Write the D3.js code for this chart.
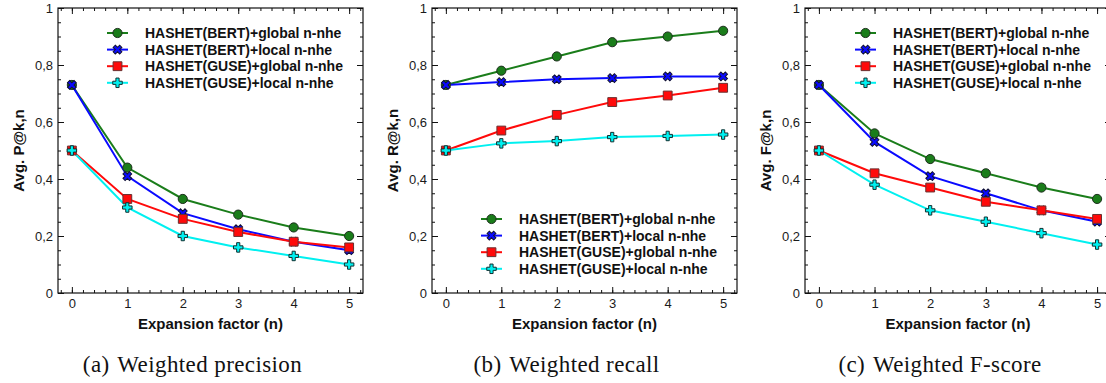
<!DOCTYPE html>
<html><head><meta charset="utf-8">
<script src="https://cdn.jsdelivr.net/npm/d3@7"></script>
<style>body{margin:0;background:#fff}svg{display:block}</style>
</head><body>
<svg id="chart" width="1106" height="383"></svg>
<script>
// ---- data ----
const expansionFactors = [0, 1, 2, 3, 4, 5];
const seriesLabels = [
  "HASHET(BERT)+global n-nhe",
  "HASHET(BERT)+local n-nhe",
  "HASHET(GUSE)+global n-nhe",
  "HASHET(GUSE)+local n-nhe"
];
const yTickValues = [0, 0.2, 0.4, 0.6, 0.8, 1];
const yTickLabels = ["0", "0,2", "0,4", "0,6", "0,8", "1"];
const xTickLabels = ["0", "1", "2", "3", "4", "5"];

const precisionBertGlobal = [0.73, 0.44, 0.33, 0.275, 0.23, 0.20];
const precisionBertLocal  = [0.73, 0.41, 0.28, 0.224, 0.18, 0.15];
const precisionGuseGlobal = [0.50, 0.33, 0.26, 0.214, 0.18, 0.16];
const precisionGuseLocal  = [0.50, 0.30, 0.20, 0.16, 0.13, 0.10];

const recallBertGlobal = [0.73, 0.78, 0.83, 0.88, 0.90, 0.92];
const recallBertLocal  = [0.73, 0.74, 0.75, 0.754, 0.76, 0.76];
const recallGuseGlobal = [0.50, 0.57, 0.625, 0.67, 0.693, 0.72];
const recallGuseLocal  = [0.50, 0.525, 0.533, 0.547, 0.551, 0.556];

const fscoreBertGlobal = [0.73, 0.56, 0.47, 0.42, 0.37, 0.33];
const fscoreBertLocal  = [0.73, 0.53, 0.41, 0.35, 0.29, 0.25];
const fscoreGuseGlobal = [0.50, 0.42, 0.37, 0.32, 0.29, 0.26];
const fscoreGuseLocal  = [0.50, 0.38, 0.29, 0.25, 0.21, 0.17];

// ---- styles ----
const colors = ["#1a7d1a", "#0a0aff", "#ff0a0a", "#00f0f0"];
const strokes = ["#1e2e1e", "#111133", "#6a3030", "#103030"];
const symbols = [d3.symbolCircle, d3.symbolCross, d3.symbolSquare, d3.symbolCross];
const symSizes = [66, 48, 78, 50];
const symRot = [0, 45, 0, 0];

const panels = [
  { x0: 58, x1: 363, yLabel: "Avg. P@k,n", capA: "(a)", capB: "Weighted precision",
    series: [precisionBertGlobal, precisionBertLocal, precisionGuseGlobal, precisionGuseLocal],
    legX: 49, legY: 33 },
  { x0: 432, x1: 737, yLabel: "Avg. R@k,n", capA: "(b)", capB: "Weighted recall",
    series: [recallBertGlobal, recallBertLocal, recallGuseGlobal, recallGuseLocal],
    legX: 49, legY: 219 },
  { x0: 805, x1: 1111, yLabel: "Avg. F@k,n", capA: "(c)", capB: "Weighted F-score",
    series: [fscoreBertGlobal, fscoreBertLocal, fscoreGuseGlobal, fscoreGuseLocal],
    legX: 50, legY: 33 }
];

const svg = d3.select("#chart");
const SANS = "'Liberation Sans', Arial, sans-serif";
const SERIF = "'Liberation Serif', 'Times New Roman', serif";
const yTop = 8, yBot = 293;

const minorX = d3.range(-0.2, 5.21, 0.2).map(v => Math.round(v * 10) / 10);
const minorY = d3.range(0, 1.001, 0.05).map(v => Math.round(v * 100) / 100);

panels.forEach(p => {
  const g = svg.append("g");
  const x = d3.scaleLinear().domain([-0.25, 5.25]).range([p.x0, p.x1]);
  const y = d3.scaleLinear().domain([0, 1]).range([yBot, yTop]);

  const styleAxis = sel => {
    sel.select(".domain").remove();
    sel.selectAll("line").attr("stroke", "#111").attr("stroke-width", 1);
    sel.selectAll("text").attr("font-family", SANS).attr("font-size", 13).attr("fill", "#1a1a1a");
  };
  g.append("g").attr("transform", `translate(0,${yBot})`)
    .call(d3.axisBottom(x).tickValues(minorX).tickSize(-3).tickFormat("")).call(styleAxis);
  g.append("g").attr("transform", `translate(0,${yBot})`)
    .call(d3.axisBottom(x).tickValues(expansionFactors).tickSize(-6).tickPadding(6)
      .tickFormat((d, i) => xTickLabels[i])).call(styleAxis);
  g.append("g").attr("transform", `translate(0,${yTop})`)
    .call(d3.axisTop(x).tickValues(minorX).tickSize(-3).tickFormat("")).call(styleAxis);
  g.append("g").attr("transform", `translate(0,${yTop})`)
    .call(d3.axisTop(x).tickValues(expansionFactors).tickSize(-6).tickFormat("")).call(styleAxis);
  g.append("g").attr("transform", `translate(${p.x0},0)`)
    .call(d3.axisLeft(y).tickValues(minorY).tickSize(-3).tickFormat("")).call(styleAxis);
  g.append("g").attr("transform", `translate(${p.x0},0)`)
    .call(d3.axisLeft(y).tickValues(yTickValues).tickSize(-6).tickPadding(5)
      .tickFormat((d, i) => yTickLabels[i])).call(styleAxis);
  g.append("g").attr("transform", `translate(${p.x1},0)`)
    .call(d3.axisRight(y).tickValues(minorY).tickSize(-3).tickFormat("")).call(styleAxis);
  g.append("g").attr("transform", `translate(${p.x1},0)`)
    .call(d3.axisRight(y).tickValues(yTickValues).tickSize(-6).tickFormat("")).call(styleAxis);

  g.append("rect").attr("x", p.x0).attr("y", yTop)
    .attr("width", p.x1 - p.x0).attr("height", yBot - yTop)
    .attr("fill", "none").attr("stroke", "#111").attr("stroke-width", 1.2);

  const line = d3.line().x((d, i) => x(expansionFactors[i])).y(d => y(d));
  p.series.forEach((s, k) => {
    g.append("path").datum(s).attr("d", line)
      .attr("fill", "none").attr("stroke", colors[k]).attr("stroke-width", 2);
  });
  p.series.forEach((s, k) => {
    g.selectAll(null).data(s).join("path")
      .attr("d", d3.symbol(symbols[k], symSizes[k]))
      .attr("transform", (d, i) => `translate(${x(expansionFactors[i])},${y(d)}) rotate(${symRot[k]})`)
      .attr("fill", colors[k]).attr("stroke", strokes[k]).attr("stroke-width", 1);
  });

  const lg = g.append("g").attr("transform", `translate(${p.x0 + p.legX},${p.legY})`);
  seriesLabels.forEach((lab, k) => {
    const row = lg.append("g").attr("transform", `translate(0,${k * 16.6})`);
    row.append("line").attr("x1", 0).attr("x2", 21).attr("y1", 0).attr("y2", 0)
      .attr("stroke", colors[k]).attr("stroke-width", 2);
    row.append("path").attr("d", d3.symbol(symbols[k], symSizes[k]))
      .attr("transform", `translate(10.5,0) rotate(${symRot[k]})`)
      .attr("fill", colors[k]).attr("stroke", strokes[k]).attr("stroke-width", 1);
    row.append("text").attr("x", 38).attr("y", 5)
      .attr("font-family", SANS).attr("font-weight", "bold").attr("font-size", 14)
      .attr("fill", "#111").text(lab);
  });

  const cx = (p.x0 + p.x1) / 2;
  g.append("text").attr("x", cx).attr("y", 329).attr("text-anchor", "middle")
    .attr("font-family", SANS).attr("font-weight", "bold").attr("font-size", 15)
    .attr("fill", "#111").text("Expansion factor (n)");
  g.append("text").attr("transform", `translate(${p.x0 - 34},${(yTop + yBot) / 2}) rotate(-90)`)
    .attr("text-anchor", "middle")
    .attr("font-family", SANS).attr("font-weight", "bold").attr("font-size", 15)
    .attr("fill", "#111").text(p.yLabel);

  const cap = g.append("text").attr("x", cx - 18).attr("y", 372).attr("text-anchor", "middle")
    .attr("font-family", SERIF).attr("font-size", 23).attr("letter-spacing", 0.4).attr("fill", "#111");
  cap.append("tspan").text(p.capA);
  cap.append("tspan").attr("dx", 2).text(" " + p.capB);
});
</script>
</body></html>
